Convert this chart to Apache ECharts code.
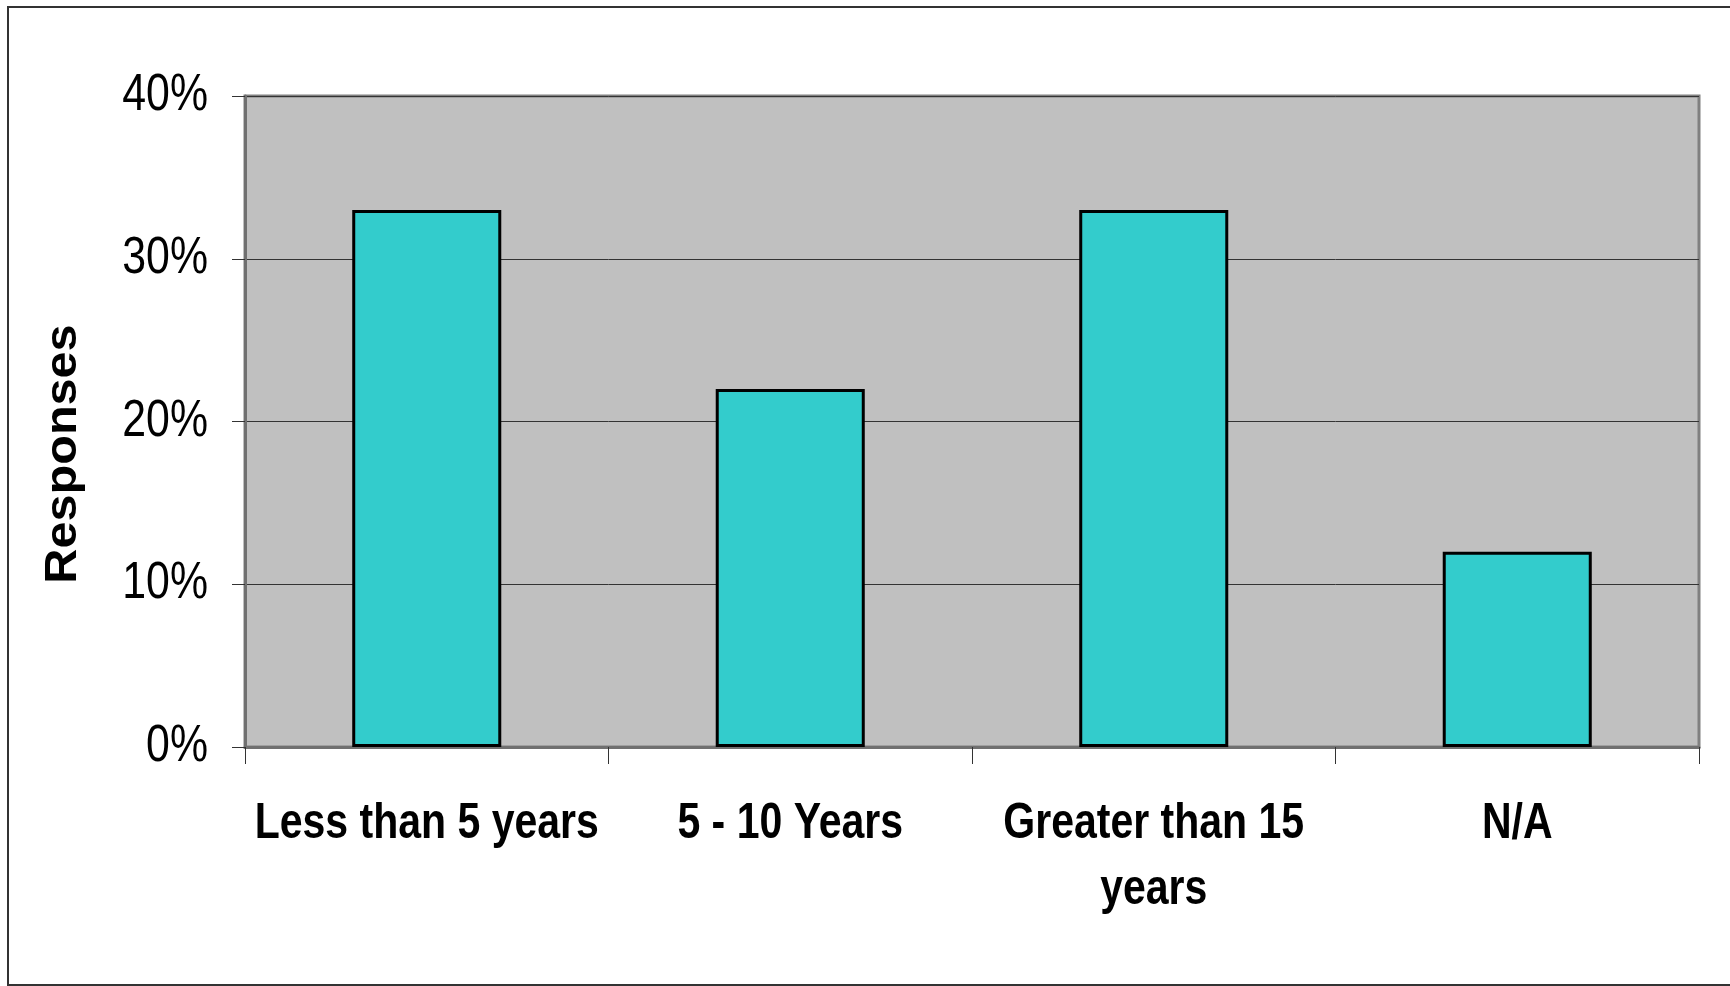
<!DOCTYPE html>
<html>
<head>
<meta charset="utf-8">
<style>
  html, body { margin: 0; padding: 0; background: #ffffff; }
  #chart { width: 1730px; height: 986px; }
</style>
<script src="https://cdn.jsdelivr.net/npm/echarts@6/dist/echarts.min.js"></script>
</head>
<body>
<div id="chart"></div>
<script>
// Share of responses by years of experience
const categories = ['Less than 5 years', '5 - 10 Years', 'Greater than 15\nyears', 'N/A'];
const responses = [33, 22, 33, 12];
const yTickValues = [0, 10, 20, 30, 40];
const yTitle = 'Responses';

const sans = "'Liberation Sans', Arial, sans-serif";

const chart = echarts.init(document.getElementById('chart'), null, { renderer: 'canvas' });

const frame = {
  id: 'frame',
  type: 'rect',
  shape: { x: 8, y: 7, width: 1740, height: 978 },
  style: { fill: 'none', stroke: '#333333', lineWidth: 2 },
  silent: true
};

chart.setOption({
  backgroundColor: '#ffffff',
  animation: false,
  graphic: [frame],
  grid: {
    left: 245, right: 31, top: 96, bottom: 239,
    show: true,
    backgroundColor: '#c0c0c0',
    borderColor: '#808080',
    borderWidth: 3
  },
  xAxis: {
    type: 'category',
    data: categories,
    axisLine: { show: true, lineStyle: { color: '#707070', width: 3 } },
    axisTick: { show: true, length: 17, lineStyle: { color: '#333333', width: 1 } },
    axisLabel: { show: false }
  },
  yAxis: {
    type: 'value',
    min: yTickValues[0],
    max: yTickValues[yTickValues.length - 1],
    interval: yTickValues[1] - yTickValues[0],
    axisLine: { show: true, lineStyle: { color: '#707070', width: 3 } },
    axisTick: { show: true, length: 13, lineStyle: { color: '#333333', width: 1 } },
    axisLabel: { show: false },
    splitLine: { show: true, lineStyle: { color: '#333333', width: 1 } }
  },
  series: [{
    type: 'bar',
    data: responses,
    barWidth: '41%',
    itemStyle: {
      color: '#33cccc',
      borderColor: '#000000',
      borderWidth: 3
    }
  }]
});

// Tick labels are set in a narrowed sans face, placed from the axis scales.
const zeroY = chart.convertToPixel({ yAxisIndex: 0 }, 0);
const axisLeft = chart.convertToPixel({ xAxisIndex: 0 }, categories[0]) -
  (chart.convertToPixel({ xAxisIndex: 0 }, categories[1]) - chart.convertToPixel({ xAxisIndex: 0 }, categories[0])) / 2;

const labels = [frame];

categories.forEach(function (name) {
  labels.push({
    type: 'text',
    x: chart.convertToPixel({ xAxisIndex: 0 }, name),
    y: zeroY + 44,
    scaleX: 0.82,
    silent: true,
    style: {
      text: name,
      fill: '#000000',
      fontFamily: sans,
      fontWeight: 'bold',
      fontSize: 50,
      lineHeight: 66,
      align: 'center',
      verticalAlign: 'top'
    }
  });
});

yTickValues.forEach(function (v) {
  labels.push({
    type: 'text',
    x: axisLeft - 37,
    y: chart.convertToPixel({ yAxisIndex: 0 }, v),
    scaleX: 0.84,
    silent: true,
    style: {
      text: v + '%',
      fill: '#000000',
      fontFamily: sans,
      fontSize: 51,
      align: 'right',
      verticalAlign: 'middle'
    }
  });
});

labels.push({
  type: 'text',
  x: 64,
  y: 454,
  rotation: Math.PI / 2,
  scaleX: 1.08,
  silent: true,
  style: {
    text: yTitle,
    fill: '#000000',
    fontFamily: sans,
    fontWeight: 'bold',
    fontSize: 45,
    align: 'center',
    verticalAlign: 'middle'
  }
});

chart.setOption({ graphic: labels });
</script>
</body>
</html>
